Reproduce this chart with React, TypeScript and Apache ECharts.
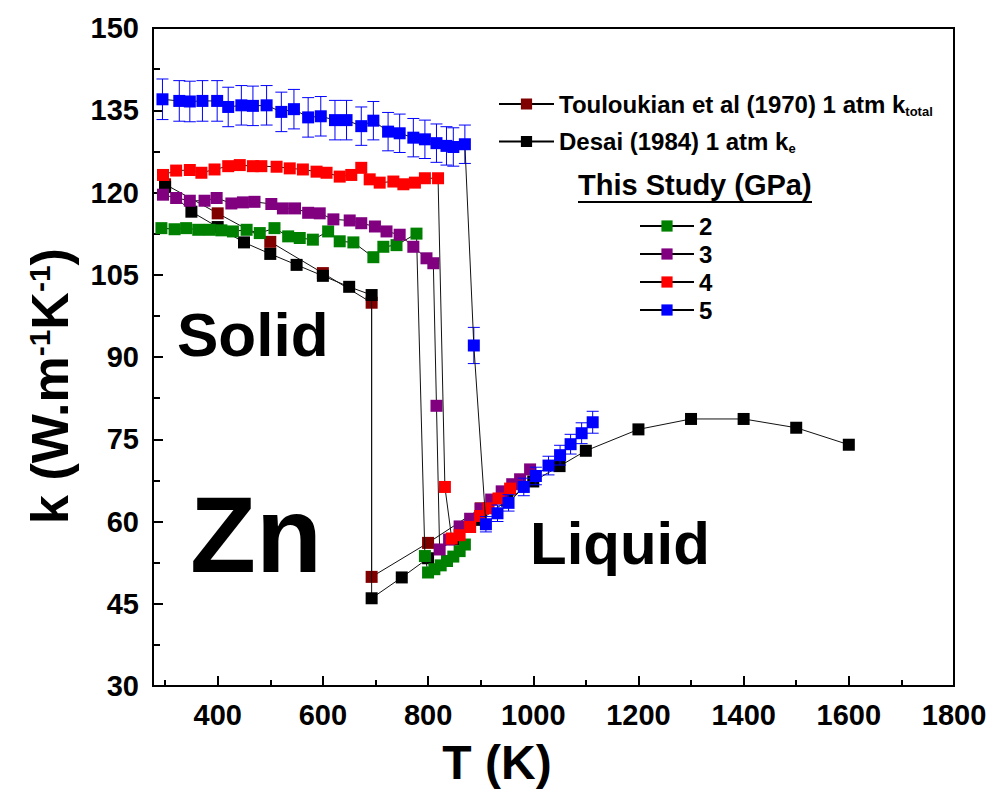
import React, { useEffect, useRef } from "react";
import * as echarts from "echarts";

// ---- data (T in K, k in W m^-1 K^-1) ----
const touloukianT = [300, 400, 500, 600, 692.7, 692.7, 800, 900];
const touloukianK = [121.5, 116.2, 111.0, 105.3, 99.9, 49.9, 56.1, 62.4];

const desaiT = [300, 350, 400, 450, 500, 550, 600, 650, 692.7, 692.7, 750, 800, 850, 900, 950, 1000, 1050, 1100, 1200, 1300, 1400, 1500, 1600];
const desaiK = [121.0, 116.5, 113.7, 110.9, 108.8, 106.8, 104.8, 102.8, 101.3, 46.0, 49.8, 53.3, 56.8, 60.3, 63.8, 67.3, 70.1, 72.9, 76.8, 78.7, 78.7, 77.1, 74.0];

const gpa2T = [293, 318, 340, 363, 385, 407, 429, 455, 480, 508, 534, 556, 581, 610, 632, 658, 696, 715, 740, 778, 794, 800, 812, 824, 836, 848, 860, 870];
const gpa2K = [113.5, 113.3, 113.5, 113.2, 113.2, 113.1, 112.9, 113.2, 112.6, 113.5, 112.0, 111.7, 111.4, 112.9, 111.1, 110.9, 108.2, 110.1, 110.4, 112.5, 53.7, 50.7, 51.3, 52.0, 52.8, 53.6, 54.6, 55.8];

const gpa3T = [296, 321, 347, 375, 398, 426, 448, 470, 502, 524, 547, 572, 594, 620, 651, 673, 699, 721, 746, 772, 797, 810, 816, 822, 840, 860, 880, 900, 920, 940, 960, 975, 994];
const gpa3K = [119.6, 119.0, 118.5, 118.5, 119.0, 118.0, 118.2, 118.3, 117.9, 117.1, 117.1, 116.3, 116.2, 115.1, 114.9, 114.4, 113.8, 112.9, 112.3, 110.1, 108.0, 107.1, 81.1, 54.9, 56.7, 59.1, 60.5, 62.3, 64.0, 65.5, 66.8, 67.7, 69.5];

const gpa4T = [296, 321, 347, 369, 394, 420, 442, 467, 483, 512, 537, 562, 588, 607, 632, 654, 673, 689, 708, 734, 753, 775, 794, 819, 832, 845, 860, 880, 899, 915, 934, 956];
const gpa4K = [123.2, 124.0, 124.1, 123.6, 124.2, 124.8, 125.0, 124.8, 124.8, 124.7, 124.4, 124.2, 123.8, 123.6, 122.9, 123.2, 124.5, 122.4, 121.8, 122.0, 121.5, 121.8, 122.6, 122.6, 66.3, 56.9, 57.5, 59.0, 61.0, 62.4, 64.2, 66.0];

const gpa5T = [295, 327, 347, 371, 399, 420, 445, 467, 493, 521, 545, 572, 596, 623, 645, 673, 696, 724, 746, 772, 794, 816, 835, 848, 870, 887, 910, 932, 953, 982, 1005, 1029, 1051, 1071, 1092, 1113];
const gpa5K = [137.0, 136.7, 136.6, 136.7, 136.7, 135.6, 135.9, 135.8, 135.9, 134.7, 135.2, 133.7, 133.9, 133.2, 133.2, 132.1, 133.1, 131.1, 130.8, 130.0, 129.7, 129.0, 128.5, 128.3, 128.8, 92.1, 59.5, 61.5, 63.4, 66.3, 68.3, 70.2, 72.1, 74.1, 76.1, 78.1];
const gpa5Err = [3.7, 3.7, 3.7, 3.7, 3.7, 3.6, 3.6, 3.6, 3.6, 3.6, 3.6, 3.6, 3.6, 3.6, 3.6, 3.5, 3.5, 3.5, 3.5, 3.5, 3.5, 3.5, 3.5, 3.5, 3.5, 3.3, 1.4, 1.5, 1.5, 1.6, 1.6, 1.7, 1.8, 1.8, 1.9, 2.0];

const xMajorTicks = [400, 600, 800, 1000, 1200, 1400, 1600, 1800];
const xMinorTicks = [300, 500, 700, 900, 1100, 1300, 1500, 1700];

const TOUL = "Touloukian et al (1970) 1 atm ktotal";
const DESAI = "Desai (1984) 1 atm ke";
const studyNames = ["2", "3", "4", "5"];

const FONT = "'Liberation Sans', Arial, Helvetica, sans-serif";

const zip = (a: number[], b: number[]) => a.map((v, i) => [v, b[i]]);

function lineSeries(name: string, xs: number[], ys: number[], color: string, z: number) {
  return {
    name,
    type: "line",
    data: zip(xs, ys),
    symbol: "rect",
    symbolSize: 12,
    showAllSymbol: true,
    lineStyle: { color: "#111", width: 1 },
    itemStyle: { color },
    z,
    emphasis: { disabled: true },
  };
}

export default function App() {
  const ref = useRef<HTMLDivElement>(null);
  useEffect(() => {
    if (!ref.current) return;
    const chart = echarts.init(ref.current, null, { renderer: "svg" });
    const axisLineStyle = { color: "#000", width: 2 };
    const option: any = {
      animation: false,
      backgroundColor: "#fff",
      grid: {
        left: 153,
        right: 41,
        top: 28,
        bottom: 108,
        show: true,
        borderColor: "#000",
        borderWidth: 2,
        backgroundColor: "transparent",
      },
      xAxis: [
        {
          type: "value",
          min: 277,
          max: 1800,
          position: "bottom",
          axisLine: { show: true, lineStyle: axisLineStyle },
          axisTick: { show: true, inside: true, length: 10, lineStyle: axisLineStyle, customValues: xMajorTicks },
          axisLabel: {
            customValues: xMajorTicks,
            formatter: (v: number) => String(v),
            fontSize: 29,
            fontWeight: "bold",
            color: "#000",
            fontFamily: FONT,
            margin: 14,
          },
          splitLine: { show: false },
        },
        {
          type: "value",
          min: 277,
          max: 1800,
          position: "bottom",
          axisLine: { show: false },
          axisTick: { show: true, inside: true, length: 6, lineStyle: axisLineStyle, customValues: xMinorTicks },
          axisLabel: { show: false },
          splitLine: { show: false },
        },
      ],
      yAxis: {
        type: "value",
        min: 30,
        max: 150,
        interval: 15,
        axisLine: { show: true, lineStyle: axisLineStyle },
        axisTick: { show: true, inside: true, length: 10, lineStyle: axisLineStyle },
        minorTick: { show: true, splitNumber: 2, length: 7, lineStyle: axisLineStyle },
        axisLabel: { fontSize: 29, fontWeight: "bold", color: "#000", fontFamily: FONT, margin: 14 },
        splitLine: { show: false },
      },
      legend: [
        {
          data: [TOUL, DESAI],
          orient: "vertical",
          left: 493,
          top: 87,
          itemWidth: 55,
          itemHeight: 14,
          itemGap: 12,
          selectedMode: false,
          lineStyle: { width: 2, color: "#000" },
          formatter: (name: string) =>
            name === TOUL
              ? "Touloukian et al (1970) 1 atm k{sub|total}"
              : "Desai (1984) 1 atm k{sub|e}",
          textStyle: {
            fontSize: 24,
            fontWeight: "bold",
            color: "#000",
            fontFamily: FONT,
            rich: {
              sub: { fontSize: 13, fontWeight: "bold", color: "#000", fontFamily: FONT, padding: [14, 0, 0, 0] },
            },
          },
        },
        {
          data: studyNames,
          orient: "vertical",
          left: 634,
          top: 209,
          itemWidth: 54,
          itemHeight: 14,
          itemGap: 4,
          selectedMode: false,
          lineStyle: { width: 2, color: "#000" },
          textStyle: { fontSize: 24, fontWeight: "bold", color: "#000", fontFamily: FONT },
        },
      ],
      graphic: [
        {
          type: "text",
          left: 578,
          top: 170,
          style: { text: "This Study (GPa)", fontSize: 29, fontWeight: "bold", fill: "#000", fontFamily: FONT },
        },
        {
          type: "line",
          shape: { x1: 578, y1: 202, x2: 812, y2: 202 },
          style: { stroke: "#000", lineWidth: 2 },
        },
        {
          type: "text",
          x: 177,
          y: 334,
          style: { text: "Solid", fontSize: 62, fontWeight: "bold", fill: "#000", fontFamily: FONT, align: "left", verticalAlign: "middle" },
        },
        {
          type: "text",
          x: 190,
          y: 534,
          style: { text: "Zn", fontSize: 108, fontWeight: "bold", fill: "#000", fontFamily: FONT, align: "left", verticalAlign: "middle" },
        },
        {
          type: "text",
          x: 530,
          y: 543,
          style: { text: "Liquid", fontSize: 60, fontWeight: "bold", fill: "#000", fontFamily: FONT, align: "left", verticalAlign: "middle" },
        },
        {
          type: "text",
          x: 497,
          y: 762,
          style: { text: "T (K)", fontSize: 48, fontWeight: "bold", fill: "#000", fontFamily: FONT, align: "center", verticalAlign: "middle" },
        },
        {
          type: "text",
          x: 50,
          y: 386,
          rotation: Math.PI / 2,
          style: {
            text: "k (W.m{sup|-1}K{sup|-1})",
            fontSize: 52,
            fontWeight: "bold",
            fill: "#000",
            fontFamily: FONT,
            align: "center",
            verticalAlign: "middle",
            rich: {
              sup: { fontSize: 30, fontWeight: "bold", fill: "#000", fontFamily: FONT, verticalAlign: "top", lineHeight: 30 },
            },
          },
        },
      ],
      series: [
        lineSeries(TOUL, touloukianT, touloukianK, "#800000", 2),
        lineSeries(DESAI, desaiT, desaiK, "#000000", 3),
        lineSeries("2", gpa2T, gpa2K, "#008000", 4),
        lineSeries("3", gpa3T, gpa3K, "#800080", 5),
        lineSeries("4", gpa4T, gpa4K, "#ff0000", 6),
        {
          type: "custom",
          name: "5 error",
          data: gpa5T.map((t, i) => [t, gpa5K[i], gpa5Err[i]]),
          encode: { x: 0, y: 1 },
          z: 7,
          renderItem: (params: any, api: any) => {
            const x = api.value(0);
            const y = api.value(1);
            const e = api.value(2);
            const top = api.coord([x, y + e]);
            const bot = api.coord([x, y - e]);
            const hw = 6;
            const st = { stroke: "#0000ff", lineWidth: 1 };
            return {
              type: "group",
              children: [
                { type: "line", shape: { x1: top[0], y1: top[1], x2: bot[0], y2: bot[1] }, style: st },
                { type: "line", shape: { x1: top[0] - hw, y1: top[1], x2: top[0] + hw, y2: top[1] }, style: st },
                { type: "line", shape: { x1: bot[0] - hw, y1: bot[1], x2: bot[0] + hw, y2: bot[1] }, style: st },
              ],
            };
          },
        },
        lineSeries("5", gpa5T, gpa5K, "#0000ff", 8),
      ],
    };
    chart.setOption(option);
    return () => chart.dispose();
  }, []);
  return <div ref={ref} style={{ width: 995, height: 794, position: "absolute", left: 0, top: 0 }} />;
}
